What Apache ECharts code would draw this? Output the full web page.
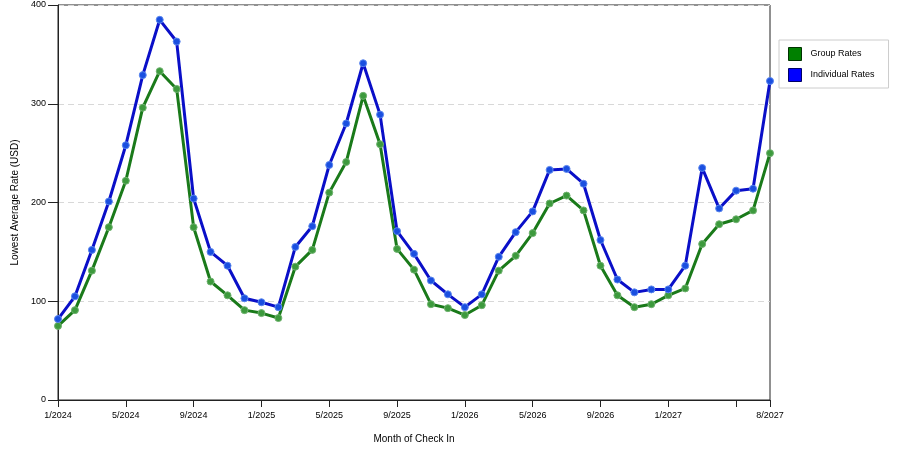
<!DOCTYPE html>
<html style="height: 100%">
<head>
    <meta charset="utf-8">
    <title>Lowest Average Rate</title>
    <script src="https://cdn.jsdelivr.net/npm/echarts@6/dist/echarts.min.js"></script>
</head>
<body style="height: 100%; margin: 0; background: #fff">
<div id="container" style="width: 900px; height: 450px"></div>
<script type="text/javascript">
    var months = [
        '1/2024', '2/2024', '3/2024', '4/2024', '5/2024', '6/2024', '7/2024', '8/2024',
        '9/2024', '10/2024', '11/2024', '12/2024',
        '1/2025', '2/2025', '3/2025', '4/2025', '5/2025', '6/2025', '7/2025', '8/2025',
        '9/2025', '10/2025', '11/2025', '12/2025',
        '1/2026', '2/2026', '3/2026', '4/2026', '5/2026', '6/2026', '7/2026', '8/2026',
        '9/2026', '10/2026', '11/2026', '12/2026',
        '1/2027', '2/2027', '3/2027', '4/2027', '5/2027', '6/2027', '8/2027'
    ];
    var groupRates = [
        75, 91, 131, 175, 222, 296, 333, 315, 175, 120, 106, 91, 88,
        83, 135, 152, 210, 241, 308, 259, 153, 132, 97, 93, 86, 96,
        131, 146, 169, 199, 207, 192, 136, 106, 94, 97, 106, 113,
        158, 178, 183, 192, 250
    ];
    var individualRates = [
        82, 105, 152, 201, 258, 329, 385, 363, 204, 150, 136, 103, 99,
        94, 155, 176, 238, 280, 341, 289, 171, 148, 121, 107, 94, 107,
        145, 170, 191, 233, 234, 219, 162, 122, 109, 112, 112, 136,
        235, 194, 212, 214, 323
    ];

    var dom = document.getElementById('container');
    var myChart = echarts.init(dom);
    var lastIdx = months.length - 1;
    var fontFamily = '"Liberation Sans", Arial, sans-serif';

    var option = {
        backgroundColor: '#ffffff',
        animation: false,
        textStyle: {fontFamily: fontFamily},
        grid: {
            left: 58,
            right: 130,
            top: 5,
            bottom: 50,
            show: true,
            borderColor: '#222',
            borderWidth: 1
        },
        legend: {
            orient: 'vertical',
            left: 779,
            top: 40,
            padding: [7, 14, 6, 9],
            itemGap: 7,
            itemWidth: 13,
            itemHeight: 13,
            borderColor: '#cccccc',
            borderWidth: 1,
            textStyle: {fontSize: 9, color: '#000', fontFamily: fontFamily, padding: [0, 0, 0, 4]},
            data: [
                {name: 'Group Rates', icon: 'rect',
                    itemStyle: {color: '#008000', borderColor: '#003300', borderWidth: 1}},
                {name: 'Individual Rates', icon: 'rect',
                    itemStyle: {color: '#0000ff', borderColor: '#000066', borderWidth: 1}}
            ]
        },
        xAxis: {
            type: 'category',
            data: months,
            boundaryGap: false,
            name: 'Month of Check In',
            nameLocation: 'middle',
            nameGap: 34,
            nameTextStyle: {fontSize: 10, color: '#000'},
            axisLine: {lineStyle: {color: '#222', width: 1}},
            axisTick: {
                length: 7,
                lineStyle: {color: '#222'},
                interval: function (i) { return i % 4 === 0 || i === lastIdx; }
            },
            axisLabel: {
                fontSize: 9,
                color: '#000',
                margin: 11,
                interval: function (i) { return (i % 4 === 0 && i < 40) || i === lastIdx; }
            },
            splitLine: {show: false}
        },
        yAxis: {
            type: 'value',
            min: 0,
            max: 400,
            interval: 100,
            name: 'Lowest Average Rate (USD)',
            nameLocation: 'middle',
            nameGap: 35,
            nameTextStyle: {fontSize: 10, color: '#000'},
            axisLine: {show: true, lineStyle: {color: '#222', width: 1}},
            axisTick: {show: true, length: 10, lineStyle: {color: '#222'}},
            axisLabel: {fontSize: 9, color: '#000', margin: 12},
            splitLine: {
                show: true,
                lineStyle: {color: '#d8d8d8', type: [6, 4], width: 1}
            }
        },
        series: [
            {
                name: 'Group Rates',
                type: 'line',
                data: groupRates,
                symbol: 'circle',
                symbolSize: 7,
                lineStyle: {color: '#1a7a1a', width: 3},
                itemStyle: {color: '#3d9a3d', borderColor: '#6fb26f', borderWidth: 1}
            },
            {
                name: 'Individual Rates',
                type: 'line',
                data: individualRates,
                symbol: 'circle',
                symbolSize: 7,
                lineStyle: {color: '#0a0fc8', width: 3},
                itemStyle: {color: '#1a4fe0', borderColor: '#5a86ee', borderWidth: 1}
            }
        ]
    };

    myChart.setOption(option);
</script>
</body>
</html>
